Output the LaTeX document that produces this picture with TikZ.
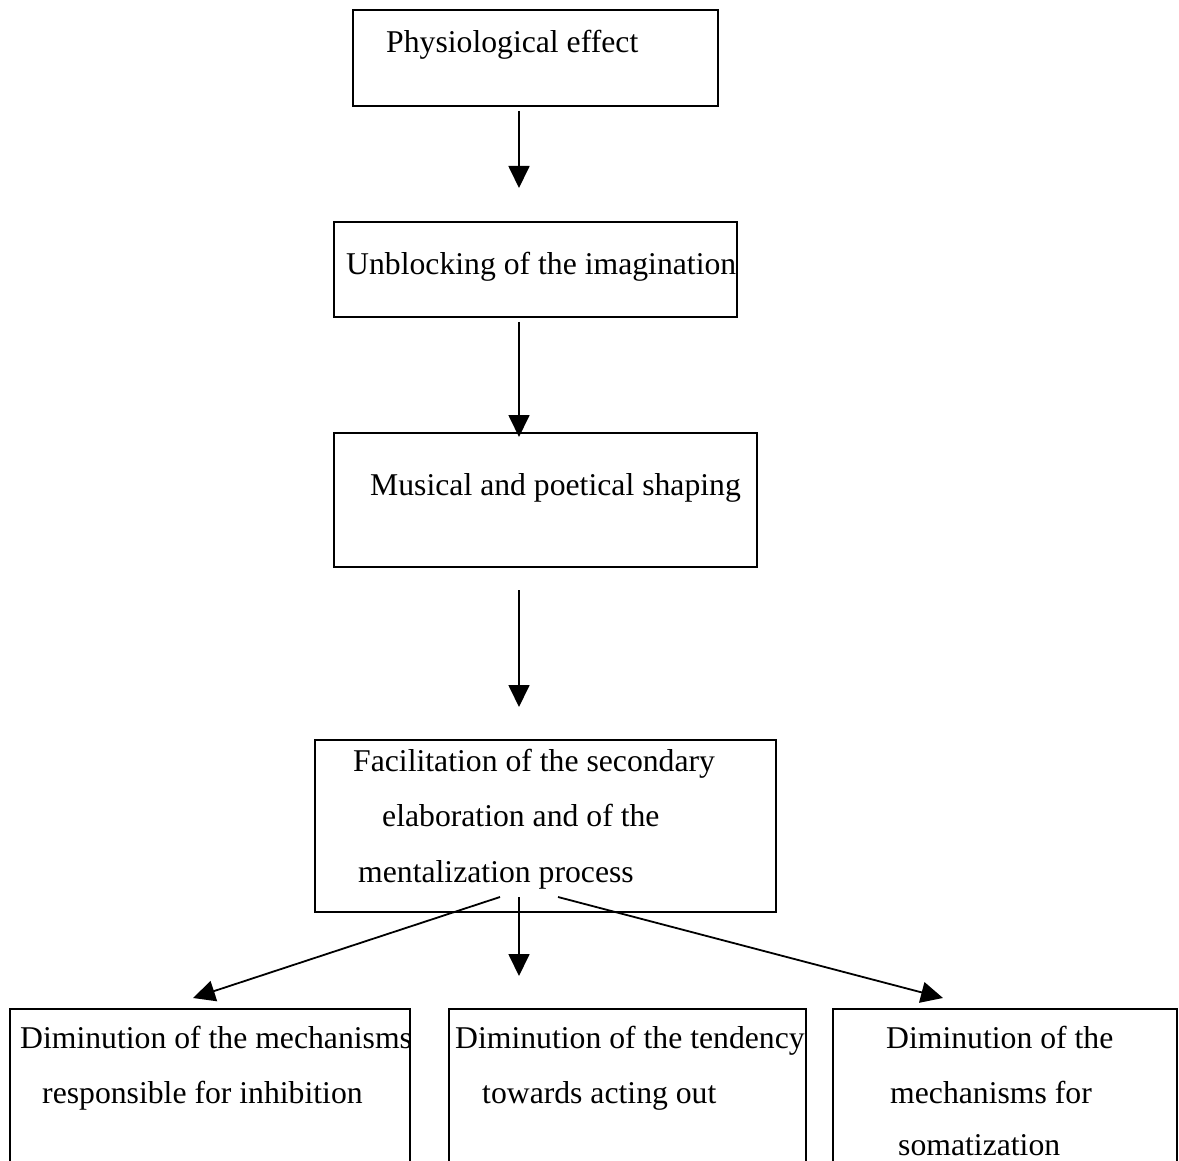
\documentclass[tikz,border=0pt]{standalone}
\usepackage{fontspec}
\setmainfont{Liberation Serif}
\usetikzlibrary{arrows.meta}
\begin{document}
\begin{tikzpicture}[x=1pt,y=-1pt,
  boxline/.style={draw=black,line width=1.8pt},
  txt/.style={anchor=base west,inner sep=0pt,font=\fontsize{31.7}{38}\selectfont},
  arr/.style={line width=1.8pt,-{Triangle[width=21pt,length=22pt]}}]
\useasboundingbox[fill=white] (0,0) rectangle (1179,1161);
% boxes
\node[boxline,minimum width=365pt,minimum height=96pt,inner sep=0pt] (b1) at (535.5,58) {};
\node[boxline,minimum width=403pt,minimum height=95pt,inner sep=0pt] (b2) at (535.5,269.5) {};
\node[boxline,minimum width=423pt,minimum height=134pt,inner sep=0pt] (b3) at (545.5,500) {};
\node[boxline,minimum width=461pt,minimum height=172pt,inner sep=0pt] (b4) at (545.5,826) {};
% texts
\node[txt] (t1) at (386,53) {Physiological effect};
\node[txt] (t2) at (346,275) {Unblocking of the imagination};
\node[txt] (t3) at (370,495) {Musical and poetical shaping};
\node[txt] (t4a) at (353,771) {Facilitation of the secondary};
\node[txt] (t4b) at (382,826) {elaboration and of the};
\node[txt] (t4c) at (358,882) {mentalization process};
% bottom open boxes
\coordinate (a1) at (10,1163); \coordinate (a2) at (410,1163);
\coordinate (c1) at (449,1163); \coordinate (c2) at (806,1163);
\coordinate (d1) at (833,1163); \coordinate (d2) at (1177,1163);
\draw[boxline] (a1) |- (410,1009) -- (a2);
\draw[boxline] (c1) |- (806,1009) -- (c2);
\draw[boxline] (d1) |- (1177,1009) -- (d2);
\node[txt] (t5a) at (20,1048) {Diminution of the mechanisms};
\node[txt] (t5b) at (42,1103) {responsible for inhibition};
\node[txt] (t6a) at (455,1048) {Diminution of the tendency};
\node[txt] (t6b) at (482,1103) {towards acting out};
\node[txt] (t7a) at (886,1048) {Diminution of the};
\node[txt] (t7b) at (890,1103) {mechanisms for};
\node[txt] (t7c) at (898,1155) {somatization};
% arrows
\coordinate (s1) at (519,111); \coordinate (e1) at (519,188);
\coordinate (s2) at (519,322); \coordinate (e2) at (519,437);
\coordinate (s3) at (519,590); \coordinate (e3) at (519,707);
\coordinate (s4) at (519,897); \coordinate (e4) at (519,976);
\coordinate (s5) at (500,897); \coordinate (e5) at (193,998);
\coordinate (s6) at (558,897); \coordinate (e6) at (943,998);
\draw[arr] (s1) -- (e1);
\draw[arr] (s2) -- (e2);
\draw[arr] (s3) -- (e3);
\draw[arr] (s4) -- (e4);
\draw[arr] (s5) -- (e5);
\draw[arr] (s6) -- (e6);
\end{tikzpicture}
\end{document}
